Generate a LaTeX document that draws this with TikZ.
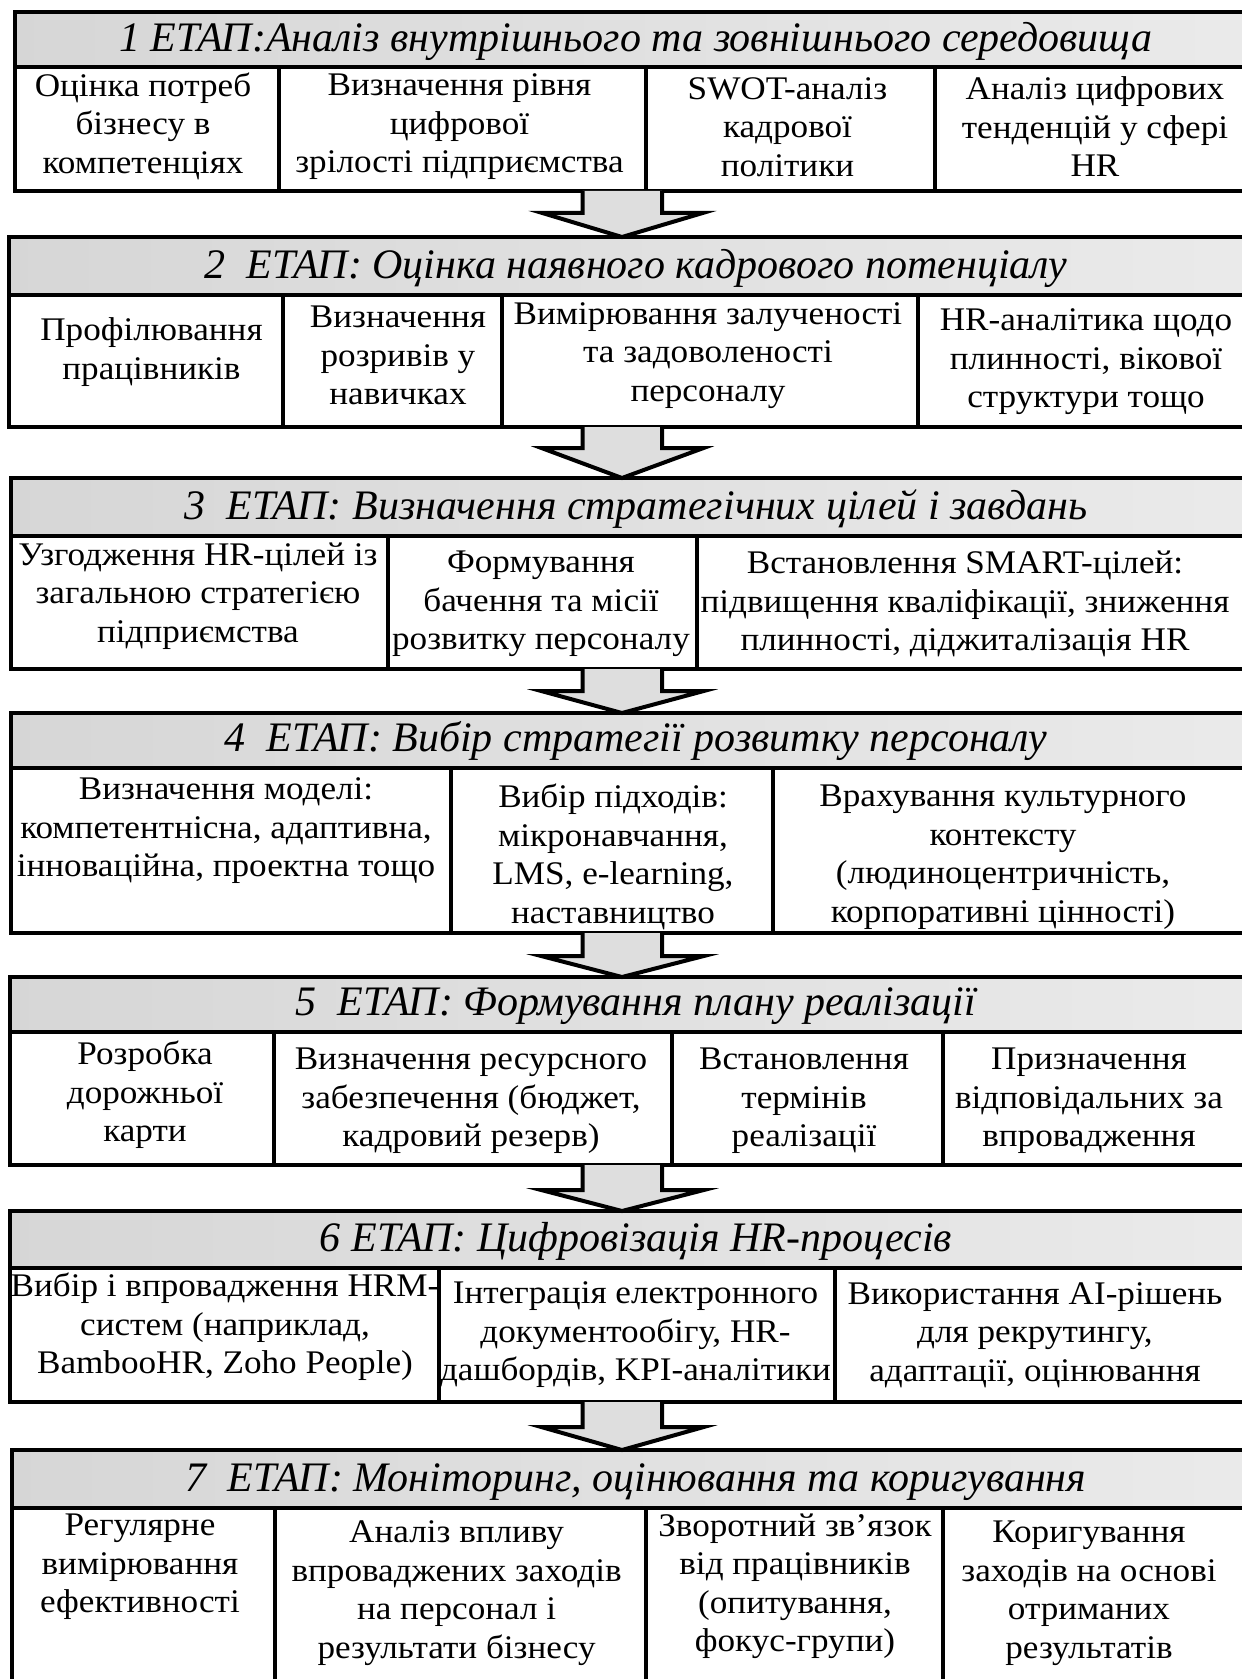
\documentclass[tikz,border=0pt]{standalone}
\usepackage{fontspec}
\setmainfont{Liberation Serif}
\newfontfamily\cellfont[FakeStretch=1.065]{Liberation Serif}
\usetikzlibrary{calc}
\tikzset{
  cellframe/.style={draw=black, line width=4pt, inner sep=0pt, outer sep=0pt, fill=white},
  headframe/.style={draw=black, line width=4pt, inner sep=0pt, outer sep=0pt, left color=black!16, right color=black!8},
  celltext/.style={align=center, inner sep=0pt, font=\cellfont\fontsize{33}{38.5}\selectfont},
  headtext/.style={anchor=base, inner sep=0pt, font=\fontsize{42}{48}\selectfont\itshape},
  arrowfill/.style={fill=black!13},
  arrowline/.style={draw=black, line width=4pt, line join=miter},
}
% name, x1, y1, x2, y2, style
\newcommand\mkcell[6]{%
  \node[#6, minimum width={(#4)-(#2)}, minimum height={(#5)-(#3)}] (#1) at ({((#2)+(#4))/2},{((#3)+(#5))/2}) {};}
% name, from-node, to-node, wing y
\newcommand\mkarrow[4]{%
  \coordinate (#1top) at ($(#2.south -| axis)$);
  \coordinate (#1tip) at ($(#3.north -| axis)$);
  \coordinate (#1wing) at ($(#2.south -| axis)+(0,#4)$);
  \fill[arrowfill] ($(#1top)+(-39.5,0)$) -- ($(#1wing)+(-39.5,0)$) -- ($(#1wing)+(-80,0)$) -- (#1tip) -- ($(#1wing)+(81,0)$) -- ($(#1wing)+(40,0)$) -- ($(#1top)+(40,0)$) -- cycle;
  \draw[arrowline] ($(#1top)+(-39.5,0)$) -- ($(#1wing)+(-39.5,0)$) -- ($(#1wing)+(-80,0)$) -- (#1tip) -- ($(#1wing)+(81,0)$) -- ($(#1wing)+(40,0)$) -- ($(#1top)+(40,0)$);}
\begin{document}
\begin{tikzpicture}[x=1pt, y=-1pt]
\useasboundingbox (0,0) rectangle (1242,1679);
\clip (0,0) rectangle (1242,1679);
\fill[white] (0,0) rectangle (1242,1679);
\coordinate (axis) at (622,0);

% Stage 1
\mkcell{h1}{15}{12}{1261}{67}{headframe}
\mkcell{c11}{15}{67}{279}{190.7}{cellframe}
\mkcell{c12}{279}{67}{646}{190.7}{cellframe}
\mkcell{c13}{646}{67}{935}{190.7}{cellframe}
\mkcell{c14}{935}{67}{1261}{190.7}{cellframe}
\mkcell{r1}{15}{67}{1261}{190.7}{draw=none}
% Stage 2
\mkcell{h2}{9}{237}{1261}{295}{headframe}
\mkcell{c21}{9}{295}{283}{427}{cellframe}
\mkcell{c22}{283}{295}{502}{427}{cellframe}
\mkcell{c23}{502}{295}{917.5}{427}{cellframe}
\mkcell{c24}{917.5}{295}{1261}{427}{cellframe}
\mkcell{r2}{9}{295}{1261}{427}{draw=none}
% Stage 3
\mkcell{h3}{11}{478}{1261}{536}{headframe}
\mkcell{c31}{11}{536}{387.5}{669}{cellframe}
\mkcell{c32}{387.5}{536}{697}{669}{cellframe}
\mkcell{c33}{697}{536}{1261}{669}{cellframe}
\mkcell{r3}{11}{536}{1261}{669}{draw=none}
% Stage 4
\mkcell{h4}{11}{713}{1261}{768}{headframe}
\mkcell{c41}{11}{768}{451}{933}{cellframe}
\mkcell{c42}{451}{768}{773}{933}{cellframe}
\mkcell{c43}{773}{768}{1261}{933}{cellframe}
\mkcell{r4}{11}{768}{1261}{933}{draw=none}
% Stage 5
\mkcell{h5}{10}{977}{1261}{1032}{headframe}
\mkcell{c51}{10}{1032}{274}{1165}{cellframe}
\mkcell{c52}{274}{1032}{671.6}{1165}{cellframe}
\mkcell{c53}{671.6}{1032}{943}{1165}{cellframe}
\mkcell{c54}{943}{1032}{1261}{1165}{cellframe}
\mkcell{r5}{10}{1032}{1261}{1165}{draw=none}
% Stage 6
\mkcell{h6}{10}{1211}{1261}{1268}{headframe}
\mkcell{c61}{10}{1268}{439}{1402}{cellframe}
\mkcell{c62}{439}{1268}{835}{1402}{cellframe}
\mkcell{c63}{835}{1268}{1261}{1402}{cellframe}
\mkcell{r6}{10}{1268}{1261}{1402}{draw=none}
% Stage 7
\mkcell{h7}{12}{1450}{1261}{1508}{headframe}
\mkcell{c71}{12}{1508}{275}{1700}{cellframe}
\mkcell{c72}{275}{1508}{645.5}{1700}{cellframe}
\mkcell{c73}{645.5}{1508}{942.6}{1700}{cellframe}
\mkcell{c74}{942.6}{1508}{1261}{1700}{cellframe}

% ---------- arrows ----------
\mkarrow{a1}{r1}{h2}{22}
\mkarrow{a2}{r2}{h3}{21}
\mkarrow{a3}{r3}{h4}{22}
\mkarrow{a4}{r4}{h5}{23}
\mkarrow{a5}{r5}{h6}{25}
\mkarrow{a6}{r6}{h7}{25}

% ---------- header texts ----------
\node[headtext] (t1) at (636,51) {1 ЕТАП:Аналіз внутрішнього та зовнішнього середовища};
\node[headtext] (t2) at (636,278) {2~ ЕТАП: Оцінка наявного кадрового потенціалу};
\node[headtext] (t3) at (636,519) {3~ ЕТАП: Визначення стратегічних цілей і завдань};
\node[headtext] (t4) at (636,751) {4~ ЕТАП: Вибір стратегії розвитку персоналу};
\node[headtext] (t5) at (636,1015) {5~ ЕТАП: Формування плану реалізації};
\node[headtext] (t6) at (636,1251) {6 ЕТАП: Цифровізація HR-процесів};
\node[headtext] (t7) at (636,1491) {7~ ЕТАП: Моніторинг, оцінювання та коригування};

% ---------- cell texts ----------
\node[celltext] (x11) at (143,126) {Оцінка потреб\\бізнесу в\\компетенціях};
\node[celltext] (x12) at (459.5,127) {Визначення рівня\\цифрової\\зрілості підприємства};
\node[celltext] (x13) at (787.5,127) {SWOT-аналіз\\кадрової\\політики};
\node[celltext] (x14) at (1095,127) {Аналіз цифрових\\тенденцій у сфері\\HR};

\node[celltext] (x21) at (151.5,352) {Профілювання\\працівників};
\node[celltext] (x22) at (398,355.5) {Визначення\\розривів у\\навичках};
\node[celltext] (x23) at (708,355.5) {Вимірювання залученості\\та задоволеності\\персоналу};
\node[celltext] (x24) at (1086,362) {HR-аналітика щодо\\плинності, вікової\\структури тощо};

\node[celltext] (x31) at (198,596) {Узгодження HR-цілей із\\загальною стратегією\\підприємства};
\node[celltext] (x32) at (541,604) {Формування\\бачення та місії\\розвитку персоналу};
\node[celltext] (x33) at (965,604) {Встановлення SMART-цілей:\\підвищення кваліфікації, зниження\\плинності, діджиталізація HR};

\node[celltext] (x41) at (226,831) {Визначення моделі:\\компетентнісна, адаптивна,\\інноваційна, проектна тощо};
\node[celltext] (x42) at (613,857) {Вибір підходів:\\мікронавчання,\\LMS, e-learning,\\наставництво};
\node[celltext] (x43) at (1003,857) {Врахування культурного\\контексту\\(людиноцентричність,\\корпоративні цінності)};

\node[celltext] (x51) at (145,1095) {Розробка\\дорожньої\\карти};
\node[celltext] (x52) at (471,1101) {Визначення ресурсного\\забезпечення (бюджет,\\кадровий резерв)};
\node[celltext] (x53) at (804,1101) {Встановлення\\термінів\\реалізації};
\node[celltext] (x54) at (1089,1101) {Призначення\\відповідальних за\\впровадження};

\node[celltext] (x61) at (225,1327) {Вибір і впровадження HRM-\\систем (наприклад,\\BambooHR, Zoho People)};
\node[celltext] (x62) at (635.5,1335) {Інтеграція електронного\\документообігу, HR-\\дашбордів, KPI-аналітики};
\node[celltext] (x63) at (1035,1335) {Використання AI-рішень\\для рекрутингу,\\адаптації, оцінювання};

\node[celltext] (x71) at (140,1567) {Регулярне\\вимірювання\\ефективності};
\node[celltext] (x72) at (456.6,1593) {Аналіз впливу\\впроваджених заходів\\на персонал і\\результати бізнесу};
\node[celltext] (x73) at (795,1586) {Зворотний зв’язок\\від працівників\\(опитування,\\фокус-групи)};
\node[celltext] (x74) at (1089,1593) {Коригування\\заходів на основі\\отриманих\\результатів};
\end{tikzpicture}
\end{document}
